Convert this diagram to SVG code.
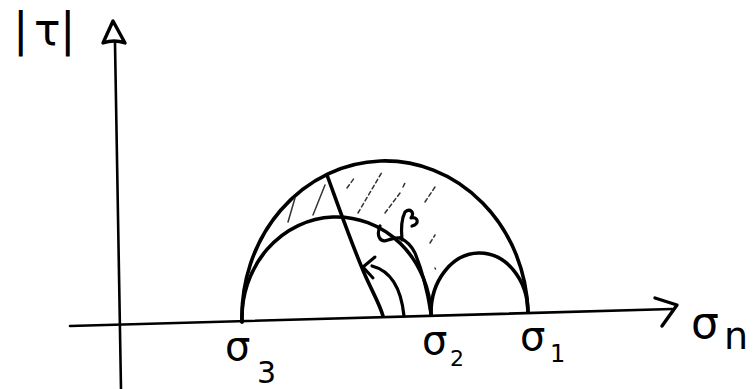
<svg xmlns="http://www.w3.org/2000/svg" width="756" height="389" viewBox="0 0 756 389">
<style>
.ink{fill:none;stroke:#000;stroke-linecap:round;stroke-linejoin:round}
.ax{stroke-width:2.6}
.c{stroke-width:3.6}
.h{fill:none;stroke:#333;stroke-width:1.5;stroke-linecap:round}
.d{stroke-dasharray:4 3}
.t{font-family:"DejaVu Sans","Liberation Sans",sans-serif;fill:#000}
</style>
<rect width="756" height="389" fill="#fff"/>
<g id="axes">
<path class="ink ax" d="M115,43 L121,389"/>
<path class="ink" stroke-width="3.4" d="M113,21 L103,43 Q114,39 125,43 Z"/>
<path class="ink ax" d="M70,326 L672,309"/>
<path class="ink" stroke-width="3.4" d="M655,298 L677,305 L662,326"/>
</g>
<g id="circles">
<path class="ink c" d="M242,322 A143 156 0 0 1 528,312"/>
<path class="ink c" d="M242,322 A94.5 101 0 0 1 431,314"/>
<path class="ink c" d="M431,314 A48.5 60 0 0 1 528,312"/>
</g>
<g id="hatch">
<path class="h" d="M288,222 L295,198"/>
<path class="h" d="M313,215 L325,185"/>
<path class="h d" d="M347,188 L355,177"/>
<path class="h d" d="M358,213 L382,172"/>
<path class="h d" d="M385,213 L400,193"/>
<path class="h d" d="M403,187 L405,183"/>
<path class="h d" d="M425,202 L435,187"/>
<path class="h d" d="M430,243 L435,235"/>
<path class="h" d="M435,268 L435.5,269"/>
</g>
<g id="connectors">
<path class="ink c" d="M327,175 C338,205 352,245 365,275 C373,293 380,305 383,316"/>
<path class="ink" stroke-width="3.2" d="M404,316 C402,296 395,272 372,266"/>
<path class="ink" stroke-width="3" d="M375,257 L363,267 L373,278"/>
<path class="ink" stroke-width="3.2" d="M431,314 C428,295 422,270 415,253 C411,245 407,241 400,238"/>
<path class="ink" stroke-width="3.2" d="M380,226 C376,236 380,243 388,240 C392,239 396,237 400,238"/>
<path class="ink" stroke-width="3.2" d="M402,240 C401,230 402,218 405,212 C410,208 415,212 411,218 C418,216 420,224 412,226"/>
</g>
<g id="labels">
<text class="t" x="13" y="45" font-size="46">|</text>
<text class="t" x="34" y="45" font-size="44">τ</text>
<text class="t" x="60" y="45" font-size="46">|</text>
<text class="t" x="225" y="360" font-size="40">σ</text>
<text class="t" x="257" y="383" font-size="30">3</text>
<text class="t" x="422" y="354" font-size="40">σ</text>
<text class="t" x="450" y="366" font-size="22">2</text>
<text class="t" x="520" y="350" font-size="40">σ</text>
<text class="t" x="550" y="362" font-size="24">1</text>
<text class="t" x="691" y="338" font-size="44">σ</text>
<text class="t" x="724" y="349" font-size="38">n</text>
</g>
</svg>
